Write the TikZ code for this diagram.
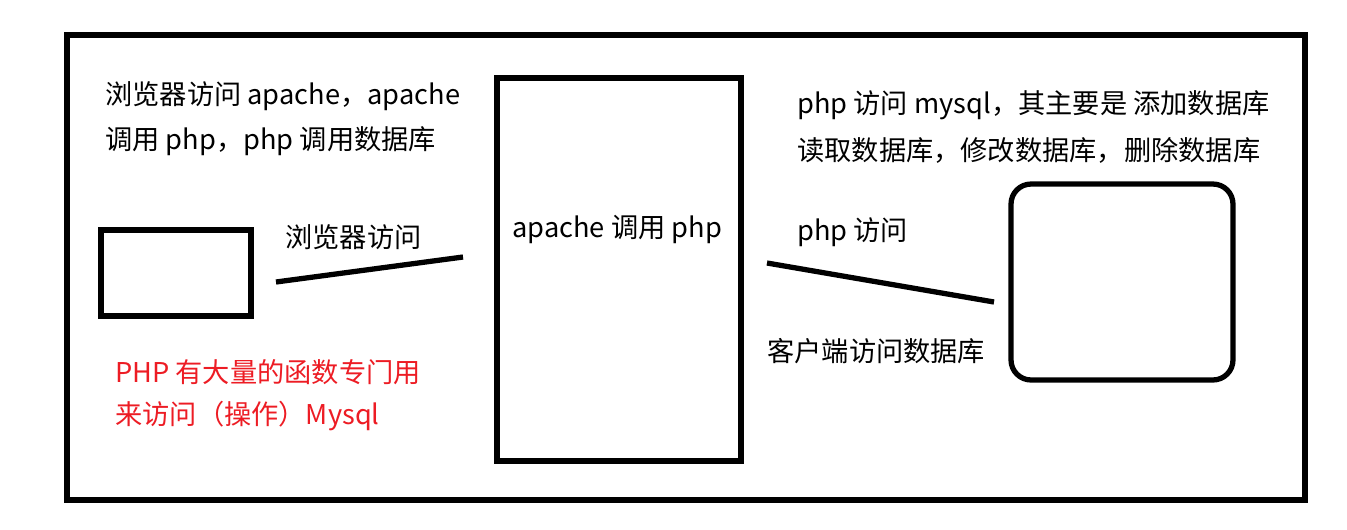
\documentclass[tikz,border=0pt]{standalone}
\usepackage{fontspec}
\setmainfont{Noto Sans CJK SC}
\definecolor{pred}{RGB}{237,28,36}
\begin{document}
\begin{tikzpicture}[x=0.02cm,y=-0.02cm,
  box/.style={draw=black,line width=3pt,inner sep=0pt,outer sep=0pt},
  lbl/.style={anchor=west,inner sep=0pt,font=\fontsize{15.5pt}{18pt}\selectfont},
  conn/.style={line width=3pt}]
\useasboundingbox (0,0) rectangle (1347,529);
\fill[white] (0,0) rectangle (1347,529);
\node[box,minimum width=24.76cm,minimum height=9.3cm] (frame) at (686,267.5) {};
\node[box,minimum width=3cm,minimum height=1.72cm] (client) at (176,273) {};
\node[box,minimum width=4.88cm,minimum height=7.66cm] (server) at (619,269.5) {};
\node[box,rounded corners=0.4cm,minimum width=4.44cm,minimum height=3.92cm] (db) at (1122,282) {};
\coordinate (a1) at (276,282);
\coordinate (a2) at (463,257);
\coordinate (b1) at (767,263);
\coordinate (b2) at (994,302);
\draw[conn] (a1) -- (a2);
\draw[conn] (b1) -- (b2);
\node[lbl] (t1) at (105,96) {浏览器访问 apache，apache};
\node[lbl] (t2) at (105,141) {调用 php，php 调用数据库};
\node[lbl] (t3) at (285,237) {浏览器访问};
\node[lbl] (t4) at (512,229) {apache 调用 php};
\node[lbl] (t5) at (797,105) {php 访问 mysql，其主要是 添加数据库};
\node[lbl] (t6) at (797,150) {读取数据库，修改数据库，删除数据库};
\node[lbl] (t7) at (797,232) {php 访问};
\node[lbl] (t8) at (767,351) {客户端访问数据库};
\node[lbl,text=pred] (t9) at (115,372) {PHP 有大量的函数专门用};
\node[lbl,text=pred] (t10) at (115,416) {来访问（操作）Mysql};
\end{tikzpicture}
\end{document}
